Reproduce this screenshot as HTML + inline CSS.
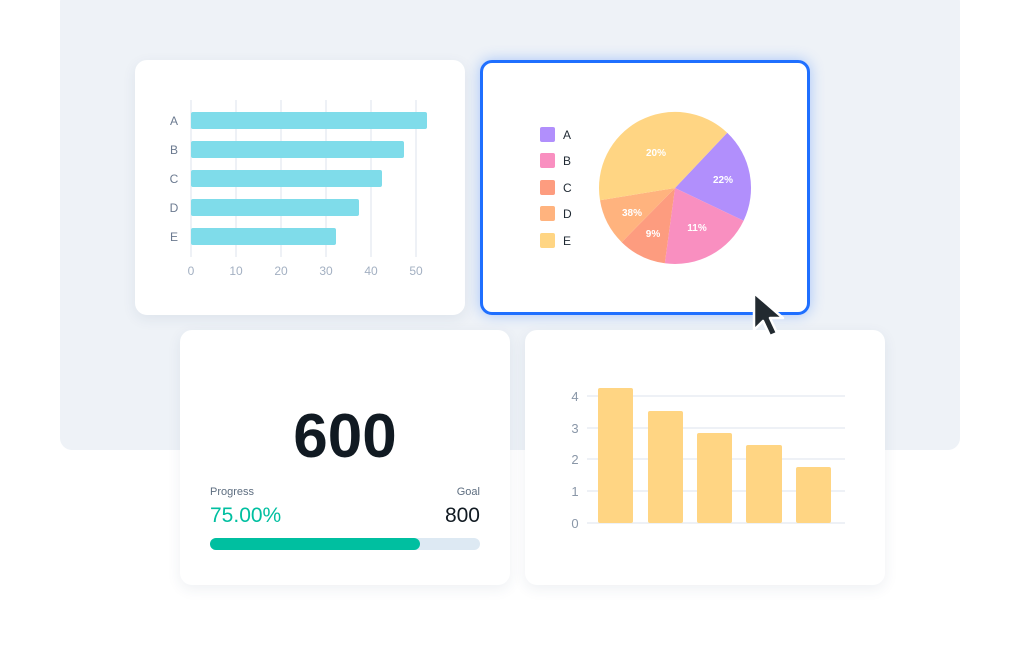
<!DOCTYPE html>
<html><head><meta charset="utf-8"><style>
body{margin:0;width:1021px;height:660px;background:#fff;position:relative;overflow:hidden;font-family:"Liberation Sans",sans-serif}
.bg{position:absolute;left:60px;top:-10px;width:900px;height:460px;background:#eef2f7;border-radius:12px}
.card{position:absolute;background:#fff;border-radius:12px;box-shadow:0 4px 14px rgba(40,60,100,0.08)}
svg{position:absolute;left:0;top:0}
</style></head><body>
<div class="bg"></div>
<div class="card" style="left:135px;top:60px;width:330px;height:255px"></div>
<div class="card" style="left:480px;top:60px;width:324px;height:249px;border:3px solid #1f6fff;box-shadow:0 0 14px rgba(31,111,255,0.35)"></div>
<div class="card" style="left:180px;top:330px;width:330px;height:255px"></div>
<div class="card" style="left:525px;top:330px;width:360px;height:255px"></div>
<svg width="1021" height="660" font-family="Liberation Sans, sans-serif">
<g stroke="#eef1f6" stroke-width="2">
<line x1="191" y1="100" x2="191" y2="257"/><line x1="236" y1="100" x2="236" y2="257"/><line x1="281" y1="100" x2="281" y2="257"/><line x1="326" y1="100" x2="326" y2="257"/><line x1="371" y1="100" x2="371" y2="257"/><line x1="416" y1="100" x2="416" y2="257"/>
</g>
<g fill="#7fdcea">
<rect x="191" y="112" width="236" height="17" rx="2"/><rect x="191" y="141" width="213" height="17" rx="2"/><rect x="191" y="170" width="191" height="17" rx="2"/><rect x="191" y="199" width="168" height="17" rx="2"/><rect x="191" y="228" width="145" height="17" rx="2"/>
</g>
<g fill="#6b7a90" font-size="12" text-anchor="middle">
<text x="174" y="125">A</text><text x="174" y="154">B</text><text x="174" y="183">C</text><text x="174" y="212">D</text><text x="174" y="241">E</text>
</g>
<g fill="#a3b0c2" font-size="12" text-anchor="middle">
<text x="191" y="275">0</text><text x="236" y="275">10</text><text x="281" y="275">20</text><text x="326" y="275">30</text><text x="371" y="275">40</text><text x="416" y="275">50</text>
</g>
<!-- pie -->
<path d="M675 188 L727.2 132.7 A76 76 0 0 1 743.6 220.7 Z" fill="#b18ffc"/>
<path d="M675 188 L743.6 220.7 A76 76 0 0 1 664.8 263.3 Z" fill="#f98fc0"/>
<path d="M675 188 L664.8 263.3 A76 76 0 0 1 621.7 242.2 Z" fill="#fd9c7f"/>
<path d="M675 188 L621.7 242.2 A76 76 0 0 1 600 200.3 Z" fill="#ffb37e"/>
<path d="M675 188 L600 200.3 A76 76 0 0 1 727.2 132.7 Z" fill="#ffd583"/>
<g fill="#fff" font-size="10" font-weight="bold" text-anchor="middle">
<text x="656" y="156">20%</text><text x="723" y="183">22%</text><text x="697" y="231">11%</text><text x="653" y="237">9%</text><text x="632" y="216">38%</text>
</g>
<rect x="540" y="127" width="15" height="15" rx="2" fill="#b18ffc"/>
<rect x="540" y="153" width="15" height="15" rx="2" fill="#f98fc0"/>
<rect x="540" y="180" width="15" height="15" rx="2" fill="#fd9c7f"/>
<rect x="540" y="206" width="15" height="15" rx="2" fill="#ffb37e"/>
<rect x="540" y="233" width="15" height="15" rx="2" fill="#ffd583"/>
<g fill="#1f2933" font-size="12">
<text x="563" y="139">A</text><text x="563" y="165">B</text><text x="563" y="192">C</text><text x="563" y="218">D</text><text x="563" y="245">E</text>
</g>
<!-- cursor -->
<path d="M754 293 L754 330 L763 321 L770 336 L777 333 L770 318 L783 318 Z" fill="#222a30" stroke="#fff" stroke-width="2.5" stroke-linejoin="round"/>
<!-- KPI -->
<text x="345" y="457" font-size="62" font-weight="bold" fill="#111a22" text-anchor="middle">600</text>
<text x="210" y="495" font-size="11" fill="#5e6e80">Progress</text>
<text x="480" y="495" font-size="11" fill="#5e6e80" text-anchor="end">Goal</text>
<text x="210" y="522" font-size="21" fill="#00bfa0">75.00%</text>
<text x="480" y="522" font-size="21" fill="#111a22" text-anchor="end">800</text>
<rect x="210" y="538" width="270" height="12" rx="6" fill="#dde9f3"/>
<rect x="210" y="538" width="210" height="12" rx="6" fill="#00bfa0"/>
<!-- column chart -->
<g stroke="#eef1f6" stroke-width="2">
<line x1="587" y1="396" x2="845" y2="396"/><line x1="587" y1="428" x2="845" y2="428"/><line x1="587" y1="459" x2="845" y2="459"/><line x1="587" y1="491" x2="845" y2="491"/><line x1="587" y1="523" x2="845" y2="523"/>
</g>
<g fill="#ffd583">
<rect x="598" y="388" width="35" height="135" rx="2"/><rect x="648" y="411" width="35" height="112" rx="2"/><rect x="697" y="433" width="35" height="90" rx="2"/><rect x="746" y="445" width="36" height="78" rx="2"/><rect x="796" y="467" width="35" height="56" rx="2"/>
</g>
<g fill="#8a97a8" font-size="13" text-anchor="middle">
<text x="575" y="401">4</text><text x="575" y="433">3</text><text x="575" y="464">2</text><text x="575" y="496">1</text><text x="575" y="528">0</text>
</g>
</svg>
</body></html>
